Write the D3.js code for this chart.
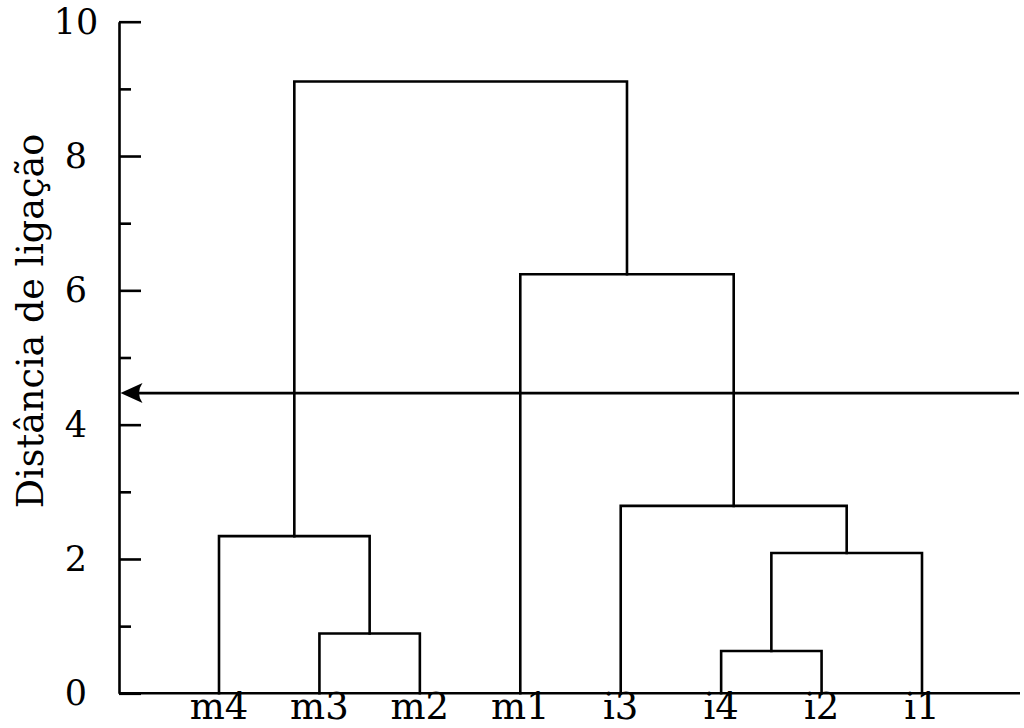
<!DOCTYPE html>
<html>
<head>
<meta charset="utf-8">
<script src="https://cdn.jsdelivr.net/npm/d3@7"></script>
<style>
  html, body { margin: 0; padding: 0; background: #fff; }
  svg { display: block; }
  text { font-family: "DejaVu Serif", serif; fill: #000; }
</style>
</head>
<body>
<svg id="chart" width="1024" height="728"></svg>
<script>
// ---- data ----
const leaves = ["m4", "m3", "m2", "m1", "i3", "i4", "i2", "i1"];
// merges: left child, right child, linkage distance (children are leaf names or merge ids)
const mergeIds    = ["A", "B", "C", "D", "E", "F", "G"];
const mergeLeft   = ["m3", "m4", "i4", "C",  "i3", "m1", "B"];
const mergeRight  = ["m2", "A",  "i2", "i1", "D",  "E",  "F"];
const mergeHeight = [0.89, 2.34, 0.63, 2.09, 2.79, 6.24, 9.11];
const majorTicks = [0, 2, 4, 6, 8, 10];
const minorTicks = [1, 3, 5, 7, 9];
const cutHeight = 4.47;
const yTitle = "Distância de ligação";

// ---- layout ----
const svg = d3.select("#chart");
const axisX = 119, axisRight = 1020;
const y = d3.scaleLinear().domain([0, 10]).range([693.3, 21.7]);
const x = d3.scalePoint().domain(leaves).range([219, 922]);
const SW = 2.6;

// node positions
const pos = {};
leaves.forEach(l => pos[l] = { x: x(l), h: 0 });
mergeIds.forEach((id, i) => {
  const a = pos[mergeLeft[i]], b = pos[mergeRight[i]];
  pos[id] = { x: (a.x + b.x) / 2, h: mergeHeight[i] };
});

// dendrogram links
const g = svg.append("g")
  .attr("fill", "none").attr("stroke", "#000").attr("stroke-width", SW)
  .attr("stroke-linejoin", "miter").attr("stroke-linecap", "square");
mergeIds.forEach((id, i) => {
  const a = pos[mergeLeft[i]], b = pos[mergeRight[i]], h = mergeHeight[i];
  g.append("path").attr("d",
    `M${a.x},${y(a.h)}V${y(h)}H${b.x}V${y(b.h)}`);
});

// baseline
svg.append("line")
  .attr("x1", axisX).attr("x2", axisRight)
  .attr("y1", y(0)).attr("y2", y(0))
  .attr("stroke", "#000").attr("stroke-width", SW);

// y axis (major)
const yAxis = svg.append("g")
  .attr("transform", `translate(${axisX},0)`)
  .call(d3.axisLeft(y).tickValues(majorTicks).tickFormat(d3.format("d"))
    .tickSizeInner(-22).tickSizeOuter(0));
yAxis.select(".domain").attr("stroke", "#000").attr("stroke-width", SW);
yAxis.selectAll(".tick line").attr("stroke", "#000").attr("stroke-width", SW);
yAxis.selectAll(".tick text")
  .attr("x", -43).attr("dy", null).attr("y", 11.5)
  .attr("text-anchor", "middle")
  .style("font-family", '"DejaVu Serif", serif')
  .style("font-size", "35px");

// minor ticks
svg.append("g")
  .attr("transform", `translate(${axisX},0)`)
  .call(d3.axisLeft(y).tickValues(minorTicks).tickFormat("").tickSizeInner(-12).tickSizeOuter(0))
  .call(s => s.select(".domain").remove())
  .selectAll(".tick line").attr("stroke", "#000").attr("stroke-width", SW);

// leaf labels
svg.append("g").selectAll("text").data(leaves).join("text")
  .attr("x", d => x(d)).attr("y", 719)
  .attr("text-anchor", "middle")
  .style("font-size", "37px")
  .text(d => d);

// y title
svg.append("text")
  .attr("transform", `translate(43,${321}) rotate(-90)`)
  .attr("text-anchor", "middle")
  .style("font-size", "36.5px")
  .text(yTitle);

// cut arrow
const ay = y(cutHeight);
const tip = axisX + 1.5;
svg.append("line")
  .attr("x1", 1019).attr("x2", tip + 12)
  .attr("y1", ay).attr("y2", ay)
  .attr("stroke", "#000").attr("stroke-width", SW);
svg.append("path")
  .attr("d", `M${tip},${ay}L${tip + 22},${ay - 10}Q${tip + 15},${ay} ${tip + 22},${ay + 10}Z`)
  .attr("fill", "#000");
</script>
</body>
</html>
